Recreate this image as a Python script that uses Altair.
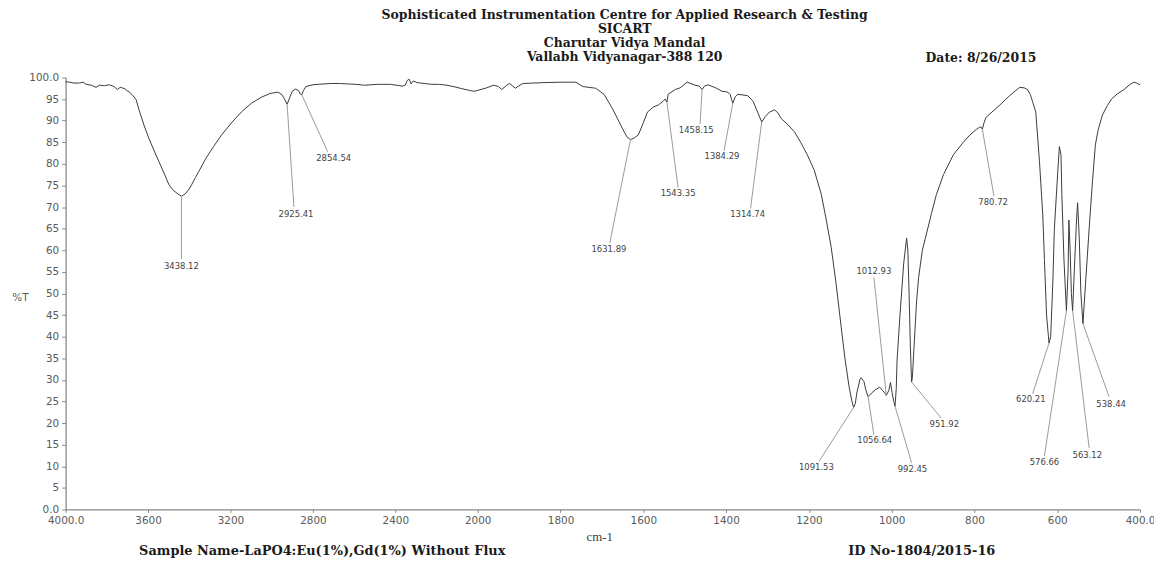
import altair as alt
import pandas as pd

# ---------------- data ----------------
wavenumber = [
    4000, 3980, 3960, 3933, 3915, 3900, 3875, 3852, 3836, 3810, 3788, 3765, 3749, 3735, 3725,
    3710, 3701, 3690, 3677, 3658, 3643, 3620, 3595, 3570, 3547, 3520, 3499, 3480, 3460, 3438,
    3420, 3400, 3388, 3370, 3354, 3320, 3282, 3243, 3195, 3147, 3099, 3051, 3007, 2969, 2950,
    2940, 2925, 2915, 2900, 2885, 2870, 2862, 2854, 2845, 2834, 2800, 2776, 2713, 2670, 2631,
    2590, 2549, 2487, 2424, 2380, 2366, 2352, 2342, 2333, 2323, 2313, 2294, 2260, 2222, 2185,
    2149, 2110, 2077, 2040, 2019, 2000, 1978, 1962, 1950, 1942, 1930, 1923, 1909, 1895, 1890,
    1842, 1799, 1763, 1746, 1715, 1695, 1674, 1650, 1640, 1631, 1622, 1612, 1600, 1590, 1575,
    1564, 1552, 1547, 1543, 1540, 1523, 1511, 1494, 1475, 1465, 1458, 1452, 1444, 1425, 1410,
    1396, 1390, 1384, 1378, 1372, 1348, 1335, 1324, 1314, 1305, 1295, 1283, 1275, 1266, 1250,
    1235, 1220, 1204, 1187, 1170, 1158, 1146, 1134, 1122, 1113, 1103, 1096, 1092, 1088, 1084,
    1077, 1074, 1067, 1062, 1057, 1048, 1038, 1029, 1022, 1017, 1013, 1007, 1003, 999, 995,
    992, 989, 987, 980, 971, 964, 961, 958, 955, 952, 950, 947, 940, 935, 926,
    916, 904, 892, 875, 851, 827, 811, 795, 787, 784, 781, 777, 772, 739, 715,
    691, 680, 672, 665, 660, 652, 643, 635, 631, 626, 620, 616, 611, 607, 599,
    595, 591, 589, 584, 578, 574, 572, 569, 566, 563, 559, 554, 551, 547, 543,
    538, 532, 523, 515, 508, 501, 491, 479, 469, 455, 439, 424, 415, 408, 403, 400,
]
transmittance = [
    99.0, 98.9, 98.7, 98.7, 98.9, 98.4, 98.2, 97.7, 98.2, 98.1, 98.3, 97.9, 97.2, 97.7, 97.6,
    97.3, 96.9, 96.6, 96.0, 94.9, 92.4, 89.0, 85.8, 83.0, 80.5, 77.6, 75.2, 74.0, 73.2, 72.5,
    73.0, 74.2, 75.2, 76.8, 78.2, 81.2, 84.0, 86.7, 89.5, 92.0, 94.0, 95.4, 96.3, 96.6, 96.0,
    95.2, 93.8, 95.0, 96.8, 97.3, 97.0, 96.2, 96.0, 97.0, 97.9, 98.3, 98.4, 98.6, 98.6, 98.5,
    98.4, 98.2, 98.4, 98.4, 98.1, 98.0, 98.2, 99.3, 99.6, 98.5, 99.2, 98.8, 98.6, 98.4, 98.4,
    98.2, 97.8, 97.4, 97.0, 96.8, 97.0, 97.6, 98.2, 97.9, 97.2, 98.2, 98.6, 97.5, 98.4, 98.6,
    98.8, 98.9, 98.9, 97.9, 97.5, 96.1, 92.7, 88.1, 86.3, 85.6, 86.0, 86.7, 89.5, 92.0, 93.2,
    93.6, 94.5, 95.0, 94.3, 96.1, 97.2, 97.6, 98.9, 98.2, 98.0, 97.2, 98.0, 98.3, 97.6, 96.8,
    96.6, 96.0, 94.0, 95.5, 96.1, 95.8, 94.5, 92.0, 89.7, 91.0, 92.0, 92.5, 91.8, 90.4, 89.0,
    87.4, 85.0, 82.1, 78.5, 72.9, 67.0, 60.6, 52.0, 42.2, 35.0, 28.4, 25.0, 23.6, 24.5, 27.1,
    30.0, 30.5, 29.6, 27.5, 26.1, 27.0, 27.8, 28.3, 27.5, 27.0, 26.4, 27.5, 29.4, 27.0, 25.0,
    23.9, 28.0, 34.6, 45.0, 57.0, 62.8, 60.0, 50.0, 38.0, 29.5, 30.5, 36.0, 48.0, 53.7, 60.0,
    63.8, 68.5, 72.9, 77.5, 82.1, 85.0, 86.7, 88.0, 88.5, 88.5, 88.0, 89.5, 90.8, 93.6, 95.8,
    97.7, 97.6, 97.2, 96.0, 94.5, 92.0, 80.5, 68.0, 57.6, 45.0, 38.5, 40.0, 52.0, 65.1, 78.0,
    84.0, 82.0, 72.9, 58.0, 46.0, 55.0, 67.0, 60.0, 50.0, 46.0, 55.0, 66.0, 71.0, 63.0, 50.0,
    43.0, 52.0, 65.1, 76.0, 84.4, 88.0, 91.3, 93.5, 95.0, 96.2, 97.2, 98.4, 98.9, 98.7, 98.4, 98.4,
]

peak_labels = ["3438.12", "2925.41", "2854.54", "1631.89", "1543.35", "1458.15", "1384.29",
               "1314.74", "1012.93", "1091.53", "1056.64", "992.45", "951.92", "780.72",
               "620.21", "576.66", "563.12", "538.44"]
peak_wn = [3438, 2925, 2854, 1631, 1543, 1458, 1384, 1314, 1013, 1092, 1057, 992, 952, 781,
           620, 578, 563, 538]
peak_T = [72.5, 93.8, 96.0, 85.6, 94.3, 97.2, 94.0, 89.7, 26.4, 23.6, 26.1, 23.9, 29.5, 88.0,
          38.5, 46.0, 46.0, 43.0]
leader_wn = [3438, 2892, 2728, 1681, 1516, 1463, 1405, 1341, 1043, 1175, 1043, 952, 880, 753,
             659.5, 631, 523, 475]
leader_T = [58.0, 70.0, 82.8, 61.7, 74.5, 89.2, 83.0, 69.7, 53.7, 11.2, 17.2, 10.8, 21.1, 72.5,
            26.8, 12.4, 14.2, 26.1]
text_wn = [3438, 2882, 2699, 1683, 1516, 1472, 1410, 1348, 1043, 1182, 1041, 950, 873, 755,
           664, 631, 527.6, 470]
text_T = [56.4, 68.3, 81.4, 60.3, 73.2, 87.8, 81.7, 68.3, 55.3, 9.9, 16.1, 9.4, 19.7, 71.1,
          25.5, 11.0, 12.6, 24.5]

x_ticks = [4000, 3600, 3200, 2800, 2400, 2000, 1800, 1600, 1400, 1200, 1000, 800, 600, 400]
y_ticks = [0, 5, 10, 15, 20, 25, 30, 35, 40, 45, 50, 55, 60, 65, 70, 75, 80, 85, 90, 95, 100]

title_lines = [
    "Sophisticated Instrumentation Centre for Applied Research & Testing",
    "SICART",
    "Charutar Vidya Mandal",
    "Vallabh Vidyanagar-388 120",
]
date_text = "Date: 8/26/2015"
sample_text = "Sample Name-LaPO4:Eu(1%),Gd(1%) Without Flux"
id_text = "ID No-1804/2015-16"

# ---------------- chart ----------------
W, H = 1082, 435
spec_df = pd.DataFrame({"wn": wavenumber, "T": transmittance})
peaks_df = pd.DataFrame({"label": peak_labels, "pwn": peak_wn, "pT": peak_T,
                         "lwn": leader_wn, "lT": leader_T, "twn": text_wn, "tT": text_T})

x_scale = alt.Scale(domain=[4000, 2000, 400], range=[0, 415, W], nice=False, zero=False)
y_scale = alt.Scale(domain=[0, 100], nice=False, zero=False)

axis_grey = "#8a8a8a"
label_grey = "#5a5a5a"

x_axis = alt.Axis(
    values=x_ticks, grid=False,
    labelExpr="datum.value == 4000 || datum.value == 400 ? format(datum.value, '.1f') : format(datum.value, 'd')",
    domainColor=axis_grey, domainWidth=1.3, tickColor=axis_grey, tickSize=3,
    labelFont="DejaVu Sans", labelFontSize=10.5, labelColor=label_grey, labelPadding=3,
    labelOverlap=False, labelFlush=False,
    title="cm-1", titleFont="Liberation Serif", titleFontSize=13, titleFontWeight="normal",
    titleColor="#444444", titleX=524, titleY=27, titleAlign="left", titleBaseline="middle",
    titleAnchor="start",
)
y_axis = alt.Axis(
    values=y_ticks, tickCount=21, grid=False,
    labelExpr="datum.value == 100 || datum.value == 0 ? format(datum.value, '.1f') : format(datum.value, 'd')",
    domainColor=axis_grey, domainWidth=1.3, tickColor=axis_grey, tickSize=4,
    labelFont="DejaVu Sans", labelFontSize=10.5, labelColor=label_grey, labelPadding=3,
    labelOverlap=False, labelFlush=False,
    title="%T", titleAngle=0, titleFont="DejaVu Sans", titleFontSize=10.5,
    titleFontWeight="normal", titleColor=label_grey, titleX=-46, titleY=222,
    titleAlign="center", titleBaseline="middle",
)

spectrum = alt.Chart(spec_df).mark_line(color="#3a3a3a", strokeWidth=1).encode(
    x=alt.X("wn:Q", scale=x_scale, axis=x_axis),
    y=alt.Y("T:Q", scale=y_scale, axis=y_axis),
)

leaders = alt.Chart(peaks_df).mark_rule(color="#9a9a9a", strokeWidth=1).encode(
    x=alt.X("pwn:Q", scale=x_scale, axis=x_axis),
    y=alt.Y("pT:Q", scale=y_scale, axis=y_axis),
    x2="lwn:Q",
    y2="lT:Q",
)

peak_text = alt.Chart(peaks_df).mark_text(
    font="DejaVu Sans", fontSize=8.5, color="#444444", align="center", baseline="middle"
).encode(
    x=alt.X("twn:Q", scale=x_scale, axis=x_axis),
    y=alt.Y("tT:Q", scale=y_scale, axis=y_axis),
    text="label:N",
)

one = pd.DataFrame({"k": [0]})
serif = dict(font="DejaVu Serif", fontWeight="bold", fontSize=12.5, color="#1a1a1a",
             baseline="middle")
serif_bottom = dict(serif, fontSize=13)

header_layers = []
title_y = [-63, -49, -35, -21]
for line_text, yy in zip(title_lines, title_y):
    header_layers.append(
        alt.Chart(one).mark_text(align="center", **serif).encode(
            x=alt.value(563), y=alt.value(yy), text=alt.value(line_text))
    )
header_layers.append(
    alt.Chart(one).mark_text(align="left", **serif).encode(
        x=alt.value(866), y=alt.value(-20), text=alt.value(date_text))
)
header_layers.append(
    alt.Chart(one).mark_text(align="left", **serif_bottom).encode(
        x=alt.value(74), y=alt.value(477), text=alt.value(sample_text))
)
header_layers.append(
    alt.Chart(one).mark_text(align="left", **serif_bottom).encode(
        x=alt.value(788), y=alt.value(477), text=alt.value(id_text))
)

chart = alt.layer(spectrum, leaders, peak_text, *header_layers).properties(
    width=W, height=H, autosize="none",
    padding={"left": 58, "top": 68, "right": 14, "bottom": 50},
    background="white",
).configure_view(stroke=None)

chart.save("out.html", embed_options={"renderer": "svg", "actions": False})
